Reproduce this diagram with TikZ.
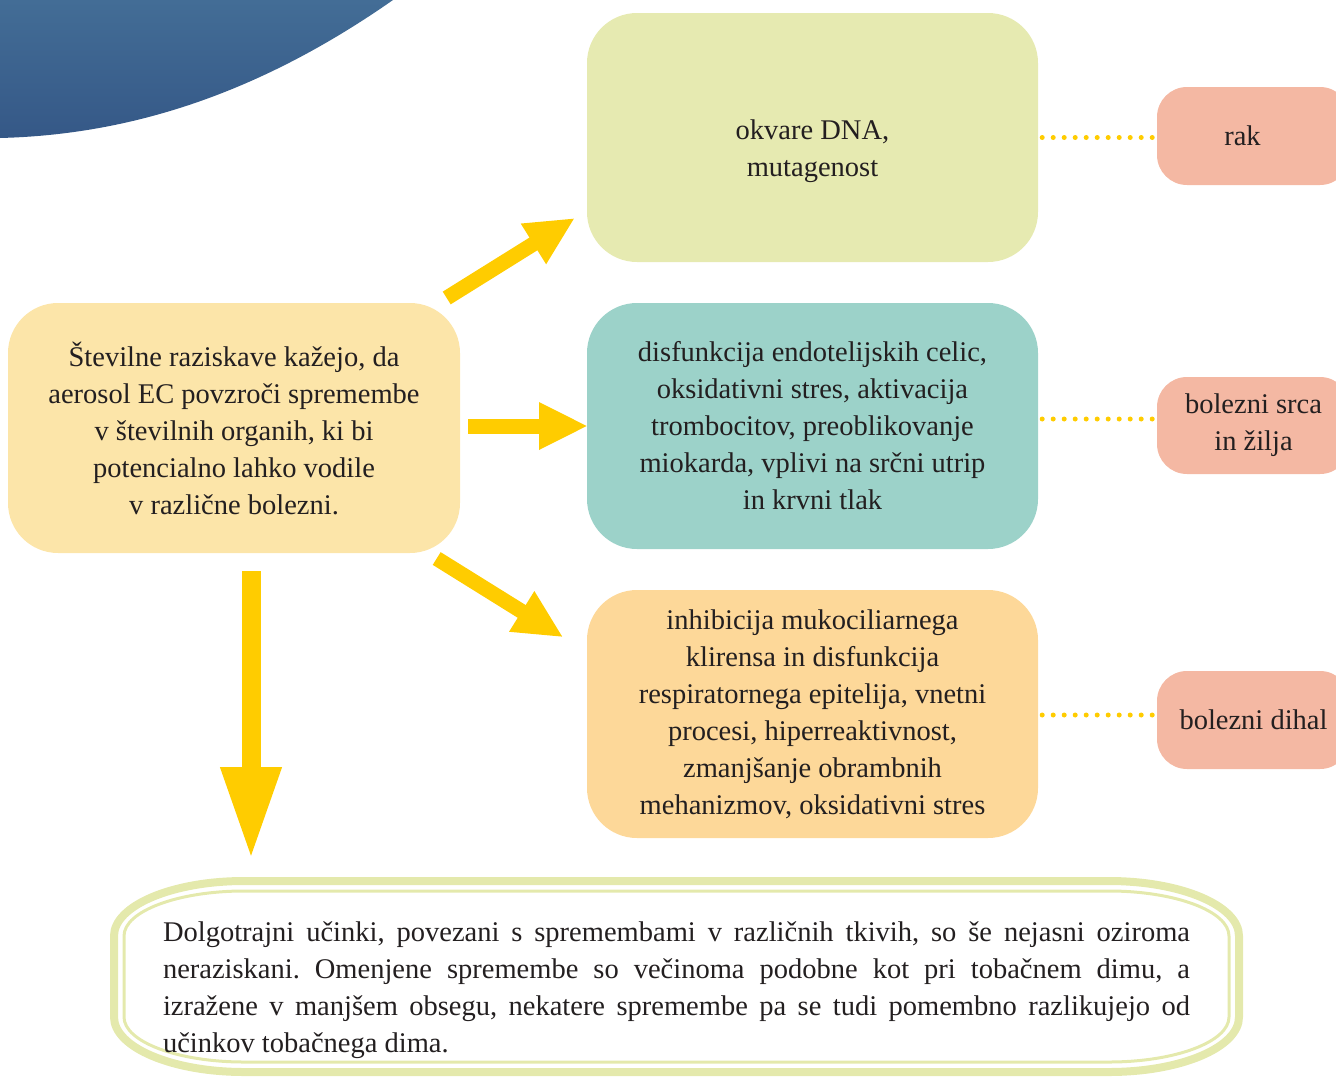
\documentclass[tikz,border=0pt]{standalone}
\usepackage{fontspec}
\setmainfont{Liberation Serif}
\usepackage{tikz}
\usetikzlibrary{arrows.meta}
\definecolor{inktext}{HTML}{231F20}
\definecolor{srcfill}{HTML}{FCE5A9}
\definecolor{dnafill}{HTML}{E6EAB1}
\definecolor{cvdfill}{HTML}{9CD2C9}
\definecolor{respfill}{HTML}{FDD899}
\definecolor{illfill}{HTML}{F4B8A3}
\definecolor{arrowyellow}{HTML}{FFCC00}
\definecolor{rimgreen}{HTML}{E4E9AC}
\definecolor{bluetop}{HTML}{436D96}
\definecolor{bluebot}{HTML}{355887}
\frenchspacing

\begin{document}
\begin{tikzpicture}[x=1pt, y=-1pt, font=\fontsize{28.5}{37}\selectfont, text=inktext,
  box/.style={rounded corners=50pt, align=center, inner sep=0pt, minimum width=451pt},
  ill/.style={rounded corners=30pt, fill=illfill, align=center, inner sep=0pt, minimum width=193pt, minimum height=98pt},
  bigarrow/.style={draw=arrowyellow, line width=15pt, -{Triangle[width=44pt,length=49pt]}},
  dotline/.style={draw=arrowyellow, line width=5pt, line cap=round, dash pattern=on 0pt off 11pt}]
\useasboundingbox (0,0) rectangle (1336,1079);
\clip (0,0) rectangle (1336,1079);
\shade[top color=bluetop, bottom color=bluebot] (0,0) -- (393,0) .. controls (250,100) and (120,135) .. (0,138) -- cycle;

\node (src) at (234,428) [box, fill=srcfill, minimum width=452pt, minimum height=250pt] {Številne raziskave kažejo, da\\ aerosol EC povzroči spremembe\\ v številnih organih, ki bi\\ potencialno lahko vodile\\ v različne bolezni.};
\node (dna) at (812.5,137.5) [box, fill=dnafill, minimum height=249pt] {\mbox{}\\[11pt] okvare DNA,\\ mutagenost};
\node (cvd) at (812.5,426) [box, fill=cvdfill, minimum height=246pt] {disfunkcija endotelijskih celic,\\ oksidativni stres, aktivacija\\ trombocitov, preoblikovanje\\ miokarda, vplivi na srčni utrip\\ in krvni tlak};
\node (resp) at (812.5,714) [box, fill=respfill, minimum height=248pt] {inhibicija mukociliarnega\\ klirensa in disfunkcija\\ respiratornega epitelija, vnetni\\ procesi, hiperreaktivnost,\\ zmanjšanje obrambnih\\ mehanizmov, oksidativni stres};

\node (rak) at (1253.5,136) [ill] {\hspace*{-22pt}rak};
\node (srca) at (1253.5,425.5) [ill, minimum height=97pt] {bolezni srca\\ in žilja};
\node (dihal) at (1253.5,720) [ill] {bolezni dihal};

\draw[dotline, shorten <=4pt, shorten >=4pt] (dna.east) -- (dna.east -| rak.west);
\draw[dotline, shorten <=4pt, shorten >=4pt] (cvd.east) ++(0,-7) -- (srca.west |- 0,419);
\draw[dotline, shorten <=4pt, shorten >=4pt] (resp.east) ++(0,1) -- (dihal.west |- 0,715);

\coordinate (up0) at (446.7,298);
\coordinate (up1) at (575,218);
\coordinate (mid0) at (468,426);
\coordinate (mid1) at (588,426);
\coordinate (dn0) at (436.7,558.5);
\coordinate (dn1) at (563.3,637.3);
\coordinate (low0) at (251,571);
\coordinate (low1) at (251,860);
\draw[bigarrow] (up0) -- (up1);
\draw[bigarrow] (mid0) -- (mid1);
\draw[bigarrow] (dn0) -- (dn1);
\draw[bigarrow, line width=19pt, -{Triangle[width=56pt,length=93pt]}] (low0) -- (low1);

\draw[rimgreen, line width=8pt] (244,881) -- (1109,881) .. controls (1180.8,881) and (1239,905.6) .. (1239,936) -- (1239,1017) .. controls (1239,1047.4) and (1180.8,1072) .. (1109,1072) -- (244,1072) .. controls (172.2,1072) and (114,1047.4) .. (114,1017) -- (114,936) .. controls (114,905.6) and (172.2,881) .. (244,881) -- cycle;
\draw[rimgreen, line width=3pt] (244,891) -- (1109,891) .. controls (1175.2,891) and (1229,911.2) .. (1229,936) -- (1229,1017) .. controls (1229,1041.8) and (1175.2,1062) .. (1109,1062) -- (244,1062) .. controls (177.8,1062) and (124,1041.8) .. (124,1017) -- (124,936) .. controls (124,911.2) and (177.8,891) .. (244,891) -- cycle;
\node (note) at (676.5,990) [text width=1027pt, align=justify, inner sep=0pt] {Dolgotrajni učinki, povezani s spremembami v različnih tkivih, so še nejasni oziroma\linebreak neraziskani. Omenjene spremembe so večinoma podobne kot pri tobačnem dimu, a\linebreak izražene v manjšem obsegu, nekatere spremembe pa se tudi pomembno razlikujejo od\linebreak učinkov tobačnega dima.};
\end{tikzpicture}
\end{document}
